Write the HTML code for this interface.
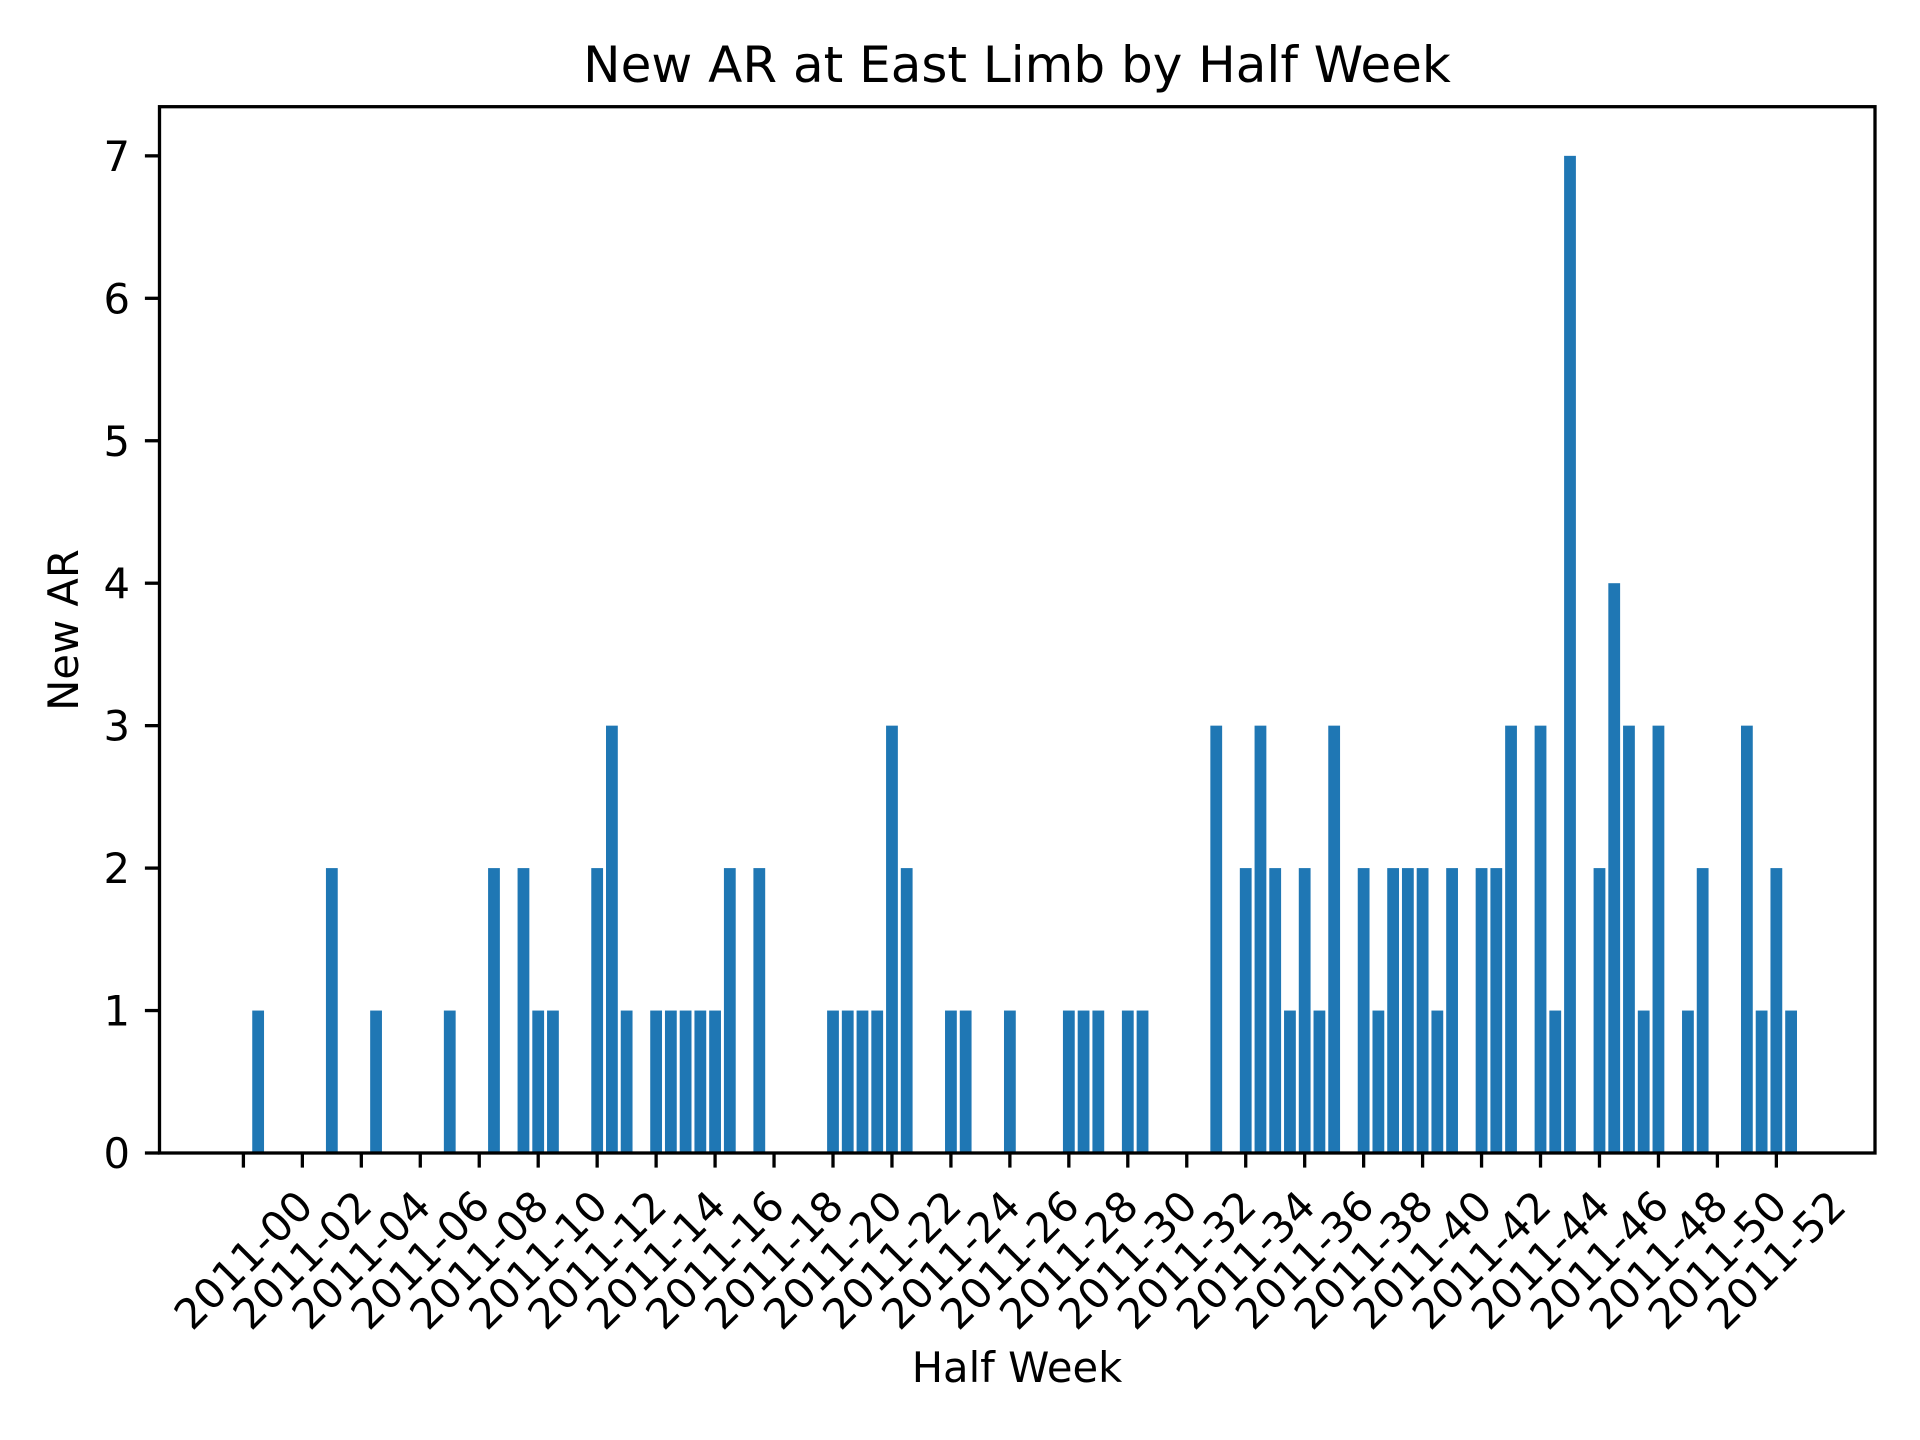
<!DOCTYPE html>
<html><head><meta charset="utf-8"><style>
html,body{margin:0;padding:0;background:#fff;}
svg{display:block;font-family:"DejaVu Sans","Liberation Sans",sans-serif;}
</style></head><body>
<svg id="chart" width="1920" height="1440" viewBox="0 0 1920 1440" xmlns="http://www.w3.org/2000/svg">
<rect width="1920" height="1440" fill="#fff"/>
<text x="1017" y="82" font-size="50" text-anchor="middle" fill="#000">New AR at East Limb by Half Week</text>
<text transform="translate(78,630) rotate(-90)" font-size="41.7" text-anchor="middle" fill="#000">New AR</text>
<text x="1017" y="1382" font-size="41.7" text-anchor="middle" fill="#000">Half Week</text>
<g id="bars"></g>
<g id="yticks"></g>
<g id="xticks"></g>
<rect x="159.5" y="106.7" width="1715.5" height="1046.3" fill="none" stroke="#000" stroke-width="3.3"/>
</svg>
<script>
const halfWeekIdx = [1,6,9,14,17,19,20,21,24,25,26,28,29,30,31,32,33,35,40,41,42,43,44,45,48,49,52,56,57,58,60,61,66,68,69,70,71,72,73,74,76,77,78,79,80,81,82,84,85,86,88,89,90,92,93,94,95,96,98,99,102,103,104,105];
const counts = [1,2,1,1,2,2,1,1,2,3,1,1,1,1,1,1,2,2,1,1,1,1,3,2,1,1,1,1,1,1,1,1,3,2,3,2,1,2,1,3,2,1,2,2,2,1,2,2,2,3,3,1,7,2,4,3,1,3,1,2,3,1,2,1];
const yTicks = [0,1,2,3,4,5,6,7];
const xTickWeeks = [0,2,4,6,8,10,12,14,16,18,20,22,24,26,28,30,32,34,36,38,40,42,44,46,48,50,52];

const NS = "http://www.w3.org/2000/svg";
const X0 = 243.4, HALF = 14.74;
const Y0 = 1153, PER = 142.45;
const xHalf = k => X0 + k * HALF;
const xWeek = w => X0 + w * 2 * HALF;
const yv = v => Y0 - v * PER;

const bars = document.getElementById('bars');
halfWeekIdx.forEach((k, i) => {
  const r = document.createElementNS(NS, 'rect');
  const w = HALF * 0.8;
  r.setAttribute('x', xHalf(k) - w / 2);
  r.setAttribute('y', yv(counts[i]));
  r.setAttribute('width', w);
  r.setAttribute('height', Y0 - yv(counts[i]));
  r.setAttribute('fill', '#1f77b4');
  
  
  bars.appendChild(r);
});

const yg = document.getElementById('yticks');
yTicks.forEach(v => {
  const l = document.createElementNS(NS, 'line');
  l.setAttribute('x1', 159.5 - 14.6); l.setAttribute('x2', 159.5);
  l.setAttribute('y1', yv(v)); l.setAttribute('y2', yv(v));
  l.setAttribute('stroke', '#000'); l.setAttribute('stroke-width', '3.3');
  
  
  yg.appendChild(l);
  const t = document.createElementNS(NS, 'text');
  t.setAttribute('x', 130); t.setAttribute('y', yv(v) + 15);
  t.setAttribute('font-size', '41.7'); t.setAttribute('text-anchor', 'end');
  t.textContent = String(v);
  
  
  yg.appendChild(t);
});

const xg = document.getElementById('xticks');
xTickWeeks.forEach(w => {
  const x = xWeek(w);
  const l = document.createElementNS(NS, 'line');
  l.setAttribute('x1', x); l.setAttribute('x2', x);
  l.setAttribute('y1', Y0); l.setAttribute('y2', Y0 + 14.6);
  l.setAttribute('stroke', '#000'); l.setAttribute('stroke-width', '3.3');
  
  
  xg.appendChild(l);
  const t = document.createElementNS(NS, 'text');
  t.setAttribute('transform', 'translate(' + x + ',1260) rotate(-45)');
  t.setAttribute('font-size', '41.7'); t.setAttribute('text-anchor', 'middle');
  t.setAttribute('dominant-baseline', 'central');
  t.textContent = '2011-' + (w < 10 ? '0' + w : w);
  
  
  xg.appendChild(t);
});
</script>
</body></html>
